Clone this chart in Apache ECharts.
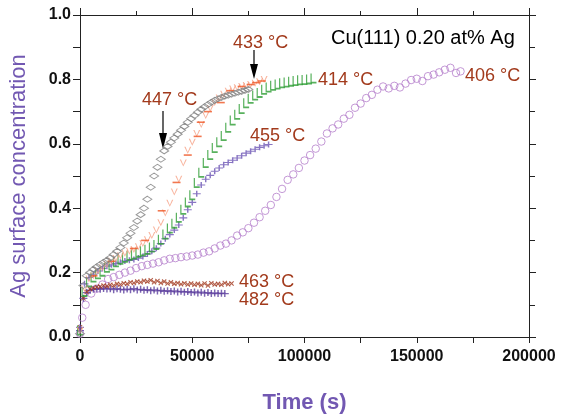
<!DOCTYPE html>
<html>
<head>
<meta charset="utf-8">
<script src="https://cdn.jsdelivr.net/npm/echarts@6/dist/echarts.min.js"></script>
<style>html,body{margin:0;padding:0;background:#fff;}#c{width:561px;height:419px;}</style>
</head>
<body>
<div id="c"></div>
<script>
// ---- time grids (s) ----
const T1500 = [0,1500,3000,4500,6000,7500,9000,10500,12000,13500,15000,16500,18000,19500,21000,22500,24000,25500,27000,28500,30000,31500,33000,34500,36000,37500,39000,40500,42000,43500,45000,46500,48000,49500,51000,52500,54000,55500,57000,58500,60000,61500,63000,64500,66000,67500,69000,70500,72000,73500,75000];
const T2000 = [0,2000,4000,6000,8000,10000,12000,14000,16000,18000,20000,22000,24000,26000,28000,30000,32000,34000,36000,38000,40000,42000,44000,46000,48000,50000,52000,54000,56000,58000,60000,62000,64000,66000,68000,70000,72000,74000,76000,78000,80000,82000,84000,86000,88000,90000,92000,94000,96000,98000,100000,102000,104000];
const T406 = [0,1000,2500,5000,7500,10000,12500,15000,17500,20000,22500,25000,27500,30000,32500,35000,37500,40000,42500,45000,47500,50000,52500,55000,57500,60000,62500,65000,67500,70000,72500,75000,77500,80000,82500,85000,87500,90000,92500,95000,97500,100000,102500,105000,107500,110000,112500,115000,117500,120000,122500,125000,127500,130000,132500,135000,137500,140000,142500,145000,147500,150000,152500,155000,157500,160000,162500,165000,167500,169500];

// ---- Ag surface concentration values ----
const c447 = [0.01,0.16,0.19,0.20,0.21,0.218,0.225,0.232,0.238,0.246,0.256,0.266,0.278,0.292,0.308,0.322,0.34,0.36,0.38,0.40,0.428,0.465,0.50,0.527,0.552,0.578,0.592,0.605,0.618,0.63,0.642,0.654,0.667,0.678,0.688,0.698,0.707,0.715,0.722,0.729,0.735,0.74,0.744,0.748,0.751,0.754,0.757,0.76,0.763,0.766,0.769];
const c433 = [0.02,0.15,0.18,0.19,0.205,0.215,0.225,0.235,0.244,0.252,0.26,0.266,0.272,0.28,0.29,0.302,0.315,0.332,0.355,0.385,0.415,0.45,0.49,0.54,0.58,0.605,0.632,0.66,0.688,0.71,0.728,0.742,0.754,0.763,0.77,0.774,0.778,0.781,0.784,0.788,0.793,0.80];
const t433b = [6000,14000,24000,29000,36400,43000,48000,52400,53800,57000,62700,67000,72000,76000,78500,81000];
const c433b = [0.19,0.235,0.275,0.30,0.392,0.48,0.565,0.623,0.667,0.70,0.728,0.765,0.778,0.784,0.79,0.795];
const c414 = [0.02,0.14,0.17,0.185,0.195,0.203,0.215,0.222,0.232,0.24,0.246,0.252,0.256,0.262,0.266,0.271,0.278,0.286,0.302,0.318,0.337,0.352,0.37,0.395,0.418,0.44,0.478,0.51,0.54,0.565,0.587,0.605,0.624,0.65,0.672,0.69,0.708,0.726,0.74,0.75,0.758,0.768,0.775,0.78,0.784,0.788,0.79,0.793,0.795,0.797,0.798,0.80,0.803];
const c455 = [0.03,0.165,0.185,0.195,0.205,0.213,0.22,0.224,0.228,0.232,0.236,0.238,0.241,0.245,0.25,0.258,0.266,0.276,0.29,0.305,0.318,0.332,0.348,0.37,0.395,0.418,0.445,0.472,0.49,0.502,0.515,0.525,0.535,0.542,0.549,0.556,0.563,0.571,0.577,0.583,0.589,0.594,0.598];
const c406 = [0.01,0.06,0.10,0.135,0.15,0.163,0.18,0.186,0.193,0.20,0.206,0.214,0.22,0.224,0.228,0.232,0.238,0.243,0.245,0.248,0.25,0.253,0.256,0.262,0.266,0.275,0.284,0.29,0.30,0.315,0.325,0.338,0.355,0.372,0.392,0.41,0.435,0.46,0.488,0.505,0.525,0.548,0.565,0.585,0.607,0.632,0.648,0.66,0.678,0.69,0.712,0.725,0.742,0.752,0.768,0.778,0.772,0.78,0.775,0.787,0.798,0.802,0.795,0.81,0.815,0.822,0.83,0.836,0.82,0.825];
const c463 = [0.03,0.12,0.14,0.148,0.152,0.155,0.157,0.16,0.158,0.162,0.16,0.165,0.163,0.167,0.165,0.17,0.168,0.172,0.17,0.175,0.172,0.176,0.17,0.174,0.168,0.172,0.166,0.17,0.165,0.168,0.164,0.167,0.163,0.166,0.162,0.165,0.161,0.166,0.16,0.167,0.163,0.165,0.162,0.168,0.164,0.166];
const c482 = [0.02,0.12,0.138,0.145,0.148,0.15,0.148,0.151,0.149,0.15,0.147,0.15,0.148,0.146,0.149,0.147,0.15,0.146,0.148,0.145,0.147,0.144,0.146,0.143,0.145,0.142,0.144,0.141,0.143,0.14,0.142,0.139,0.141,0.138,0.14,0.137,0.139,0.136,0.138,0.135,0.137,0.135,0.136,0.135];

const xTicks = [0,50000,100000,150000,200000];
const yTicks = [0.0,0.2,0.4,0.6,0.8,1.0];

const pair = (t, v) => v.map((y, i) => [t[i], y]);

const FONT = 'Liberation Sans, Arial, sans-serif';
const LAB = '#a23a1c';
const PUR = '#7258b2';
const NONE = 'rgba(0,0,0,0)';

const sym = {
  chevron: 'path://M0,0L1.8,0L5,7.4L8.2,0L10,0L5,10Z',
  ell: 'path://M0,0L2,0L2,8.2L10,8.2L10,10L0,10Z',
  plus: 'path://M4.1,0L5.9,0L5.9,4.1L10,4.1L10,5.9L5.9,5.9L5.9,10L4.1,10L4.1,5.9L0,5.9L0,4.1L4.1,4.1Z',
  dash: 'path://M0,0L10,0L10,10L0,10Z'
};

const chart = echarts.init(document.getElementById('c'), null, {renderer: 'canvas'});

const axisCommon = {
  type: 'value',
  axisLine: {show: true, onZero: false, lineStyle: {color: '#222', width: 1}},
  splitLine: {show: false}
};

const option = {
  animation: false,
  backgroundColor: '#fff',
  grid: {left: 79, right: 32, top: 15, bottom: 80, containLabel: false},
  xAxis: [
    Object.assign({}, axisCommon, {
      position: 'bottom', min: 0, max: 200000, interval: 50000,
      axisTick: {show: true, inside: false, length: 6, lineStyle: {color: '#222'}},
      minorTick: {show: true, splitNumber: 2, length: 6, lineStyle: {color: '#222'}},
      axisLabel: {show: true, margin: 12, fontSize: 16, fontWeight: 'bold', color: '#111', fontFamily: FONT,
        formatter: v => xTicks.includes(v) ? String(v) : ''},
      name: 'Time (s)', nameLocation: 'middle', nameGap: 55,
      nameTextStyle: {fontSize: 22, fontWeight: 'bold', color: PUR, fontFamily: FONT}
    }),
    Object.assign({}, axisCommon, {
      position: 'top', min: 0, max: 200000, interval: 50000,
      axisTick: {show: true, inside: false, length: 7, lineStyle: {color: '#222'}},
      minorTick: {show: true, splitNumber: 2, length: 4, lineStyle: {color: '#222'}},
      axisLabel: {show: false}
    })
  ],
  yAxis: [
    Object.assign({}, axisCommon, {
      position: 'left', min: 0, max: 1, interval: 0.2,
      axisTick: {show: true, inside: false, length: 7, lineStyle: {color: '#222'}},
      minorTick: {show: true, splitNumber: 2, length: 7, lineStyle: {color: '#222'}},
      axisLabel: {show: true, margin: 9, fontSize: 16, fontWeight: 'bold', color: '#111', fontFamily: FONT,
        formatter: v => yTicks.some(t => Math.abs(t - v) < 1e-9) ? v.toFixed(1) : ''},
      name: 'Ag surface concentration', nameLocation: 'middle', nameGap: 50, nameRotate: 90,
      nameTextStyle: {fontSize: 22, color: PUR, fontFamily: FONT}
    }),
    Object.assign({}, axisCommon, {
      position: 'right', min: 0, max: 1, interval: 0.2,
      axisTick: {show: true, inside: false, length: 7, lineStyle: {color: '#222'}},
      minorTick: {show: true, splitNumber: 2, length: 6, lineStyle: {color: '#222'}},
      axisLabel: {show: false}
    })
  ],
  series: [
    {name: '406', type: 'scatter', data: pair(T406, c406), symbol: 'circle', symbolSize: 7.5,
      itemStyle: {color: NONE, borderColor: '#b57fcc', borderWidth: 1}, z: 1},
    {name: '482', type: 'scatter', data: pair(T1500, c482), symbol: sym.plus, symbolSize: [8, 7],
      itemStyle: {color: '#5b3d9e'}, z: 2},
    {name: '463', type: 'scatter', data: pair(T1500, c463), symbol: sym.plus, symbolRotate: 45, symbolSize: 6,
      itemStyle: {color: '#a0341a'}, z: 2},
    {name: '455', type: 'scatter', data: pair(T2000, c455), symbol: sym.plus, symbolSize: [8, 6],
      itemStyle: {color: '#6c54b4'}, z: 3},
    {name: '414', type: 'scatter', data: pair(T2000, c414), symbol: sym.ell, symbolSize: [6, 10],
      itemStyle: {color: '#2e9e35'}, z: 3},
    {name: '433', type: 'scatter', data: pair(T2000, c433), symbol: sym.chevron, symbolSize: [7, 7],
      itemStyle: {color: '#f6a084'}, z: 4},
    {name: '433b', type: 'scatter', data: pair(t433b, c433b), symbol: sym.dash, symbolSize: [8, 1.6],
      itemStyle: {color: '#ef5523'}, z: 5},
    {name: '447', type: 'scatter', data: pair(T1500, c447), symbol: 'diamond', symbolSize: [9, 6],
      itemStyle: {color: NONE, borderColor: '#808080', borderWidth: 1}, z: 6}
  ],
  graphic: [
    {type: 'text', x: 331, y: 38, style: {text: 'Cu(111) 0.20 at% Ag', fill: '#000', font: '20px ' + FONT, verticalAlign: 'middle'}},
    {type: 'text', x: 142, y: 100, style: {text: '447 °C', fill: LAB, font: '18px ' + FONT, verticalAlign: 'middle'}},
    {type: 'text', x: 233, y: 43, style: {text: '433 °C', fill: LAB, font: '18px ' + FONT, verticalAlign: 'middle'}},
    {type: 'text', x: 318, y: 80, style: {text: '414 °C', fill: LAB, font: '18px ' + FONT, verticalAlign: 'middle'}},
    {type: 'text', x: 250, y: 136, style: {text: '455 °C', fill: LAB, font: '18px ' + FONT, verticalAlign: 'middle'}},
    {type: 'text', x: 465, y: 76, style: {text: '406 °C', fill: LAB, font: '18px ' + FONT, verticalAlign: 'middle'}},
    {type: 'text', x: 239, y: 282, style: {text: '463 °C', fill: LAB, font: '18px ' + FONT, verticalAlign: 'middle'}},
    {type: 'text', x: 239, y: 300, style: {text: '482 °C', fill: LAB, font: '18px ' + FONT, verticalAlign: 'middle'}},
    {type: 'line', shape: {x1: 163, y1: 111, x2: 163, y2: 136}, style: {stroke: '#000', lineWidth: 1.2}},
    {type: 'polygon', shape: {points: [[159, 133], [167, 133], [163, 149]]}, style: {fill: '#000'}},
    {type: 'line', shape: {x1: 254, y1: 50, x2: 254, y2: 66}, style: {stroke: '#000', lineWidth: 1.2}},
    {type: 'polygon', shape: {points: [[250, 64], [258, 64], [254, 79]]}, style: {fill: '#000'}}
  ]
};
chart.setOption(option);
</script>
</body>
</html>
